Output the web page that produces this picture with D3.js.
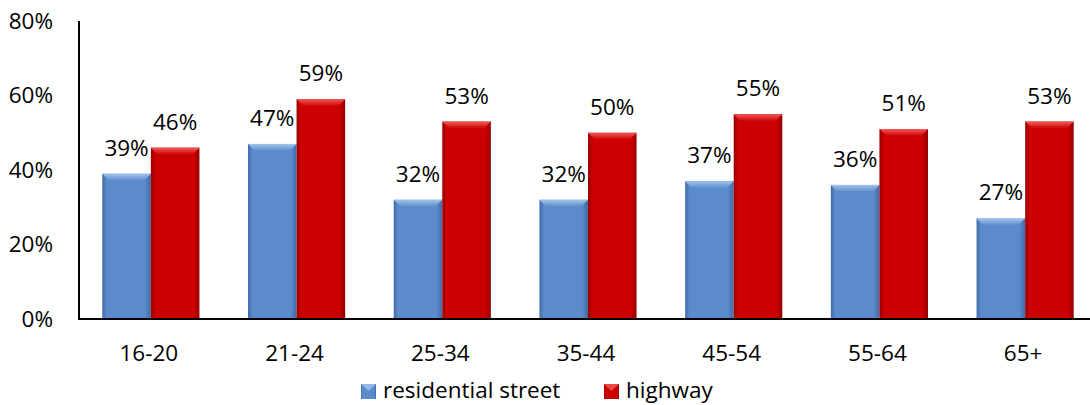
<!DOCTYPE html>
<html>
<head>
<meta charset="utf-8">
<script src="https://cdn.jsdelivr.net/npm/d3@7"></script>
<style>
  html, body { margin: 0; padding: 0; background: #fff; }
  svg { display: block; }
  text { font-family: "Open Sans", sans-serif; fill: #000; }
</style>
</head>
<body>
<svg id="chart" width="1090" height="405"></svg>
<script>
const categories = ["16-20", "21-24", "25-34", "35-44", "45-54", "55-64", "65+"];
const seriesNames = ["residential street", "highway"];
const residential = [39, 47, 32, 32, 37, 36, 27];
const highway = [46, 59, 53, 50, 55, 51, 53];
const yTicks = [0, 20, 40, 60, 80];

const palette = {
  "residential street": { main: "#5B8BCA", light: "#A3C4EC", dark: "#3F6BA8" },
  "highway": { main: "#CC0000", light: "#F25A5A", dark: "#960000" }
};

const svg = d3.select("#chart");
const fontSize = 22.5;

const x0 = d3.scaleBand().domain(categories).range([78, 1098]).paddingInner(0).paddingOuter(0);
const x1 = d3.scaleBand().domain(seriesNames).range([x0.bandwidth() / 6, x0.bandwidth() * 5 / 6]).padding(0);
const y = d3.scaleLinear().domain([0, 80]).range([319, 21]);

const data = categories.map((c, i) => ({
  cat: c,
  values: [
    { s: seriesNames[0], v: residential[i] },
    { s: seriesNames[1], v: highway[i] }
  ]
}));

// gradients
const defs = svg.append("defs");
seriesNames.forEach((s, k) => {
  const p = palette[s];
  const g = defs.append("linearGradient").attr("id", "grad" + k)
    .attr("x1", "0").attr("x2", "1").attr("y1", "0").attr("y2", "0");
  g.append("stop").attr("offset", "0%").attr("stop-color", p.dark);
  g.append("stop").attr("offset", "9%").attr("stop-color", p.main);
  g.append("stop").attr("offset", "88%").attr("stop-color", p.main);
  g.append("stop").attr("offset", "100%").attr("stop-color", p.dark);
  const gt = defs.append("linearGradient").attr("id", "top" + k)
    .attr("x1", "0").attr("x2", "0").attr("y1", "0").attr("y2", "1");
  gt.append("stop").attr("offset", "0%").attr("stop-color", p.light);
  gt.append("stop").attr("offset", "100%").attr("stop-color", p.main);
});

// bars
const groups = svg.append("g").selectAll("g").data(data).join("g")
  .attr("transform", d => `translate(${x0(d.cat)},0)`);

groups.each(function(d) {
  const g = d3.select(this);
  d.values.forEach(o => {
    const k = seriesNames.indexOf(o.s);
    const bx = x1(o.s), bw = x1.bandwidth(), by = y(o.v), bh = y(0) - y(o.v);
    g.append("rect").attr("x", bx).attr("y", by).attr("width", bw).attr("height", bh)
      .attr("fill", `url(#grad${k})`);
    const bev = 7;
    g.append("polygon")
      .attr("points", [[bx, by], [bx + bw, by], [bx + bw - bev, by + bev], [bx + bev, by + bev]].map(p => p.join(",")).join(" "))
      .attr("fill", `url(#top${k})`);
    g.append("text")
      .attr("x", bx + bw / 2).attr("y", by - 18)
      .attr("text-anchor", "middle")
      .attr("font-size", fontSize)
      .text(o.v + "%");
  });
});

// axes
const axisG = svg.append("g");
axisG.append("line").attr("x1", 79).attr("x2", 79).attr("y1", y(80)).attr("y2", y(0) + 1)
  .attr("stroke", "#000").attr("stroke-width", 2);
axisG.append("line").attr("x1", 78).attr("x2", 1098).attr("y1", y(0)).attr("y2", y(0))
  .attr("stroke", "#000").attr("stroke-width", 2);

// y tick labels
svg.append("g").selectAll("text").data(yTicks).join("text")
  .attr("x", 53).attr("y", d => y(d))
  .attr("dy", "0.35em")
  .attr("text-anchor", "end")
  .attr("font-size", fontSize)
  .text(d => d + "%");

// x tick labels
svg.append("g").selectAll("text").data(categories).join("text")
  .attr("x", d => x0(d) + x0.bandwidth() / 2 - 2).attr("y", 361)
  .attr("text-anchor", "middle")
  .attr("font-size", fontSize)
  .text(d => d);

// legend
const legendX = [361, 604];
const leg = svg.append("g").selectAll("g").data(seriesNames).join("g")
  .attr("transform", (d, i) => `translate(${legendX[i]},384)`);
leg.append("rect").attr("width", 15).attr("height", 15)
  .attr("fill", (d, i) => `url(#grad${i})`);
leg.append("polygon").attr("points", "0,0 15,0 7.5,7")
  .attr("fill", (d, i) => palette[d].light).attr("opacity", 0.8);
leg.append("text").attr("x", 22).attr("y", 14)
  .attr("font-size", fontSize)
  .text(d => d);
</script>
</body>
</html>
